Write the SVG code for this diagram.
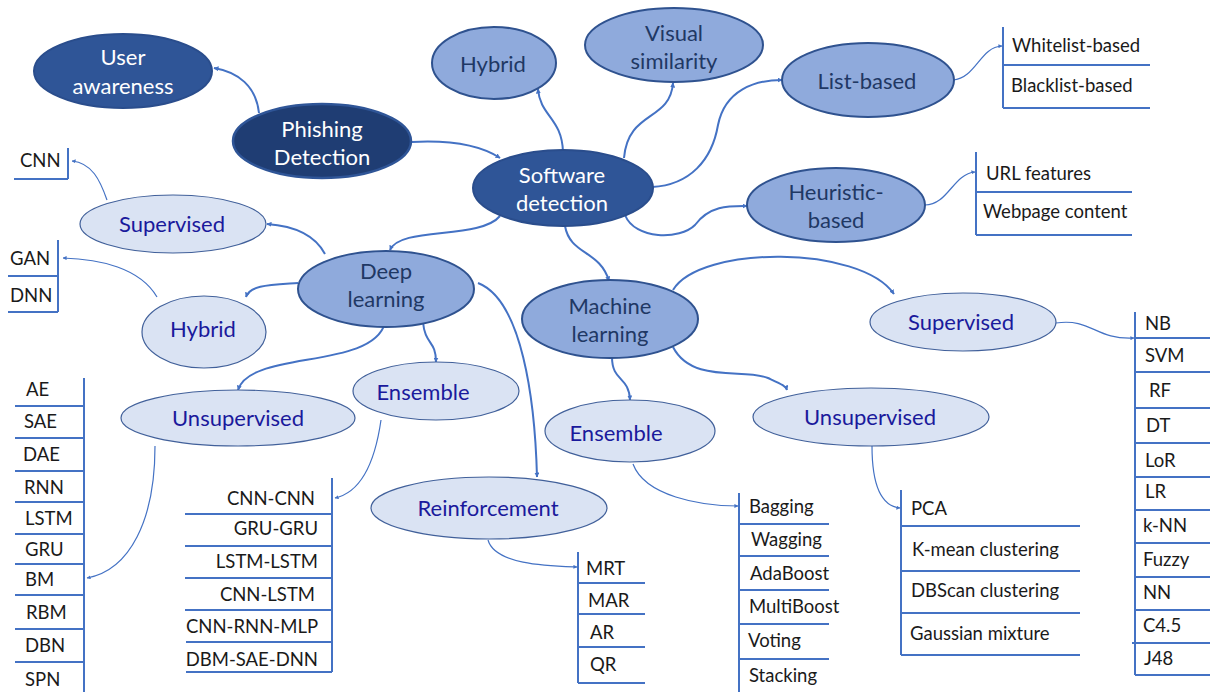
<svg xmlns="http://www.w3.org/2000/svg" width="1210" height="692" viewBox="0 0 1210 692">
  <defs>
    <marker id="ah" viewBox="0 0 10 10" refX="9" refY="5" markerWidth="5" markerHeight="5" orient="auto-start-reverse" markerUnits="userSpaceOnUse">
      <path d="M0,0 L10,5 L0,10 z" fill="#4472C4"/>
    </marker>
    <marker id="ahs" viewBox="0 0 10 10" refX="9" refY="5" markerWidth="4" markerHeight="4" orient="auto-start-reverse" markerUnits="userSpaceOnUse">
      <path d="M0,0 L10,5 L0,10 z" fill="#4472C4"/>
    </marker>
  </defs>
  <style>
    .dark ellipse { fill: #2F5597; stroke: #2A4D8C; stroke-width: 2; }
    .darker ellipse { fill: #1F3D73; stroke: #2F5597; stroke-width: 2.5; }
    .mid ellipse { fill: #8FAADC; stroke: #2F528F; stroke-width: 2; }
    .light ellipse { fill: #DAE3F3; stroke: #41609A; stroke-width: 1.2; }
    text { font-family: Lato, "Liberation Sans", sans-serif; dominant-baseline: central; }
    .dark text, .darker text { fill: #FFFFFF; font-size: 22px; text-anchor: middle; }
    .mid text { fill: #1F3864; font-size: 22px; text-anchor: middle; }
    .light text { fill: #1A1A9C; font-size: 22px; text-anchor: middle; }
    .list line { stroke: #4472C4; stroke-width: 2; }
    .list text { fill: #1A1A1A; font-size: 18.5px; }
    .list .r { text-anchor: end; }
    .conn path { fill: none; stroke: #4472C4; stroke-width: 2; }
    .conn path.thin { stroke-width: 1.2; }
  </style>

  <!-- connectors -->
  <g id="connectors" class="conn">
    <path d="M259,113 C256,86 238,72 214,68" marker-end="url(#ah)"/>
    <path d="M412,142 C450,140 480,145 500,158" marker-end="url(#ah)"/>
    <path d="M563,152 C562,118 540,116 538,89" marker-end="url(#ah)"/>
    <path d="M624,158 C628,110 670,122 673,83" marker-end="url(#ah)"/>
    <path d="M652,187 C690,185 712,160 718,125 C725,90 755,80 782,80" marker-end="url(#ah)"/>
    <path d="M625,215 C635,240 680,240 695,225 C710,205 730,206 747,206" marker-end="url(#ah)"/>
    <path d="M565,226 C570,255 600,250 609,281" marker-end="url(#ah)"/>
    <path d="M500,216 C480,240 400,226 390,250" marker-end="url(#ah)"/>
    <path d="M325,254 C315,235 295,226 267,224" marker-end="url(#ah)"/>
    <path d="M298,283 C270,285 250,285 246,297" marker-end="url(#ah)"/>
    <path d="M385,323 C372,370 250,350 238,390" marker-end="url(#ah)"/>
    <path d="M423,322 C425,345 436,340 436,362" marker-end="url(#ah)"/>
    <path d="M478,283 C522,300 535,400 537,477" marker-end="url(#ah)"/>
    <path d="M673,290 C700,245 860,245 894,294" marker-end="url(#ah)"/>
    <path d="M673,347 C692,384 745,368 768,378 C781,384 786,386 787,390" marker-end="url(#ah)"/>
    <path d="M612,357 C612,382 629,376 630,400" marker-end="url(#ah)"/>
    <path class="thin" d="M107,200 C100,180 92,163 72,161" marker-end="url(#ahs)"/>
    <path class="thin" d="M157,297 C140,268 100,259 63,258" marker-end="url(#ahs)"/>
    <path class="thin" d="M155,446 C155,520 130,570 87,578" marker-end="url(#ahs)"/>
    <path class="thin" d="M381,420 C375,462 362,492 335,498" marker-end="url(#ahs)"/>
    <path class="thin" d="M488,540 C495,565 550,566 577,567" marker-end="url(#ahs)"/>
    <path class="thin" d="M633,464 C645,496 700,506 738,506" marker-end="url(#ahs)"/>
    <path class="thin" d="M872,446 C872,482 880,506 900,508" marker-end="url(#ahs)"/>
    <path class="thin" d="M1056,323 C1092,318 1095,340 1134,338" marker-end="url(#ahs)"/>
    <path class="thin" d="M953,80 C976,78 980,47 1002,46" marker-end="url(#ahs)"/>
    <path class="thin" d="M925,205 C948,205 953,174 975,172" marker-end="url(#ahs)"/>
  </g>

  <!-- main nodes -->
  <g id="user-awareness" class="dark">
    <ellipse cx="123" cy="71" rx="89" ry="37"/>
    <text x="123" y="56">User</text>
    <text x="123" y="85">awareness</text>
  </g>
  <g id="phishing-detection" class="darker">
    <ellipse cx="322" cy="141" rx="89" ry="37"/>
    <text x="322" y="128">Phishing</text>
    <text x="322" y="156">Detection</text>
  </g>
  <g id="software-detection" class="dark">
    <ellipse cx="563" cy="188" rx="90" ry="38"/>
    <text x="562" y="174">Software</text>
    <text x="562" y="202">detection</text>
  </g>

  <g id="hybrid-top" class="mid">
    <ellipse cx="494" cy="63" rx="62" ry="36"/>
    <text x="493" y="63">Hybrid</text>
  </g>
  <g id="visual-similarity" class="mid">
    <ellipse cx="674" cy="45" rx="89" ry="37"/>
    <text x="674" y="32">Visual</text>
    <text x="674" y="60">similarity</text>
  </g>
  <g id="list-based" class="mid">
    <ellipse cx="868" cy="80" rx="86" ry="37"/>
    <text x="867" y="80">List-based</text>
  </g>
  <g id="heuristic-based" class="mid">
    <ellipse cx="836" cy="205" rx="89" ry="37"/>
    <text x="836" y="191">Heuristic-</text>
    <text x="836" y="219">based</text>
  </g>
  <g id="deep-learning" class="mid">
    <ellipse cx="386" cy="289" rx="88" ry="38"/>
    <text x="386" y="270">Deep</text>
    <text x="386" y="298">learning</text>
  </g>
  <g id="machine-learning" class="mid">
    <ellipse cx="610" cy="319" rx="88" ry="39"/>
    <text x="610" y="305">Machine</text>
    <text x="610" y="333">learning</text>
  </g>

  <!-- deep learning branches -->
  <g id="dl-supervised" class="light">
    <ellipse cx="173" cy="224" rx="93" ry="29"/>
    <text x="172" y="223">Supervised</text>
  </g>
  <g id="dl-hybrid" class="light">
    <ellipse cx="204" cy="332" rx="62" ry="36"/>
    <text x="203" y="328">Hybrid</text>
  </g>
  <g id="dl-unsupervised" class="light">
    <ellipse cx="238" cy="418" rx="117" ry="28"/>
    <text x="238" y="417">Unsupervised</text>
  </g>
  <g id="dl-ensemble" class="light">
    <ellipse cx="436" cy="391" rx="83" ry="29"/>
    <text x="423" y="391">Ensemble</text>
  </g>
  <g id="dl-reinforcement" class="light">
    <ellipse cx="489" cy="508" rx="118" ry="31"/>
    <text x="488" y="507">Reinforcement</text>
  </g>

  <!-- machine learning branches -->
  <g id="ml-supervised" class="light">
    <ellipse cx="963" cy="322" rx="93" ry="29"/>
    <text x="961" y="321">Supervised</text>
  </g>
  <g id="ml-unsupervised" class="light">
    <ellipse cx="871" cy="417" rx="118" ry="29"/>
    <text x="870" y="416">Unsupervised</text>
  </g>
  <g id="ml-ensemble" class="light">
    <ellipse cx="630" cy="431" rx="85" ry="31"/>
    <text x="616" y="432">Ensemble</text>
  </g>

  <!-- leaf lists -->
  <g id="list-lists" class="list">
    <line x1="1003" y1="27" x2="1003" y2="108"/>
    <line x1="1003" y1="65" x2="1150" y2="65"/>
    <line x1="1003" y1="108" x2="1150" y2="108"/>
    <text x="1012" y="45">Whitelist-based</text>
    <text x="1011" y="85">Blacklist-based</text>
  </g>
  <g id="list-heuristic" class="list">
    <line x1="976" y1="152" x2="976" y2="235"/>
    <line x1="976" y1="192" x2="1132" y2="192"/>
    <line x1="976" y1="235" x2="1132" y2="235"/>
    <text x="986" y="173">URL features</text>
    <text x="983" y="211">Webpage content</text>
  </g>
  <g id="list-dl-supervised" class="list">
    <line x1="68" y1="148" x2="68" y2="179"/>
    <line x1="14" y1="179" x2="68" y2="179"/>
    <text x="20" y="160">CNN</text>
  </g>
  <g id="list-dl-hybrid" class="list">
    <line x1="58" y1="240" x2="58" y2="312"/>
    <line x1="8" y1="276" x2="58" y2="276"/>
    <line x1="8" y1="312" x2="58" y2="312"/>
    <text x="10" y="258">GAN</text>
    <text x="10" y="295">DNN</text>
  </g>
  <g id="list-dl-unsupervised" class="list">
    <line x1="84" y1="378" x2="84" y2="692"/>
    <line x1="15" y1="406" x2="84" y2="406"/>
    <line x1="15" y1="438" x2="84" y2="438"/>
    <line x1="15" y1="471" x2="84" y2="471"/>
    <line x1="15" y1="502" x2="84" y2="502"/>
    <line x1="15" y1="534" x2="84" y2="534"/>
    <line x1="15" y1="564" x2="84" y2="564"/>
    <line x1="15" y1="595" x2="84" y2="595"/>
    <line x1="15" y1="629" x2="84" y2="629"/>
    <line x1="15" y1="662" x2="84" y2="662"/>
    <text x="26" y="389">AE</text>
    <text x="24" y="421">SAE</text>
    <text x="23" y="454">DAE</text>
    <text x="24" y="487">RNN</text>
    <text x="25" y="518">LSTM</text>
    <text x="25" y="549">GRU</text>
    <text x="25" y="579">BM</text>
    <text x="26" y="612">RBM</text>
    <text x="25" y="645">DBN</text>
    <text x="25" y="679">SPN</text>
  </g>
  <g id="list-dl-ensemble" class="list">
    <line x1="332" y1="478" x2="332" y2="672"/>
    <line x1="185" y1="514" x2="332" y2="514"/>
    <line x1="185" y1="546" x2="332" y2="546"/>
    <line x1="185" y1="578" x2="332" y2="578"/>
    <line x1="185" y1="610" x2="332" y2="610"/>
    <line x1="186" y1="642" x2="332" y2="642"/>
    <line x1="186" y1="672" x2="332" y2="672"/>
    <text class="r" x="315" y="498">CNN-CNN</text>
    <text class="r" x="318" y="528">GRU-GRU</text>
    <text class="r" x="318" y="561">LSTM-LSTM</text>
    <text class="r" x="315" y="594">CNN-LSTM</text>
    <text class="r" x="318" y="626">CNN-RNN-MLP</text>
    <text class="r" x="318" y="659">DBM-SAE-DNN</text>
  </g>
  <g id="list-dl-reinforcement" class="list">
    <line x1="578" y1="552" x2="578" y2="683"/>
    <line x1="578" y1="583" x2="645" y2="583"/>
    <line x1="578" y1="614" x2="645" y2="614"/>
    <line x1="578" y1="647" x2="645" y2="647"/>
    <line x1="578" y1="683" x2="645" y2="683"/>
    <text x="586" y="568">MRT</text>
    <text x="588" y="600">MAR</text>
    <text x="590" y="632">AR</text>
    <text x="590" y="664">QR</text>
  </g>
  <g id="list-ml-ensemble" class="list">
    <line x1="739" y1="493" x2="739" y2="692"/>
    <line x1="739" y1="524" x2="829" y2="524"/>
    <line x1="739" y1="556" x2="829" y2="556"/>
    <line x1="739" y1="590" x2="829" y2="590"/>
    <line x1="739" y1="624" x2="829" y2="624"/>
    <line x1="739" y1="659" x2="829" y2="659"/>
    <text x="749" y="506">Bagging</text>
    <text x="751" y="539">Wagging</text>
    <text x="750" y="573">AdaBoost</text>
    <text x="749" y="606">MultiBoost</text>
    <text x="748" y="640">Voting</text>
    <text x="749" y="675">Stacking</text>
  </g>
  <g id="list-ml-unsupervised" class="list">
    <line x1="901" y1="490" x2="901" y2="655"/>
    <line x1="901" y1="526" x2="1080" y2="526"/>
    <line x1="901" y1="571" x2="1080" y2="571"/>
    <line x1="901" y1="613" x2="1080" y2="613"/>
    <line x1="901" y1="655" x2="1080" y2="655"/>
    <text x="911" y="508">PCA</text>
    <text x="912" y="549">K-mean clustering</text>
    <text x="911" y="590">DBScan clustering</text>
    <text x="910" y="633">Gaussian mixture</text>
  </g>
  <g id="list-ml-supervised" class="list">
    <line x1="1135" y1="312" x2="1135" y2="675"/>
    <line x1="1135" y1="338" x2="1210" y2="338"/>
    <line x1="1135" y1="372" x2="1210" y2="372"/>
    <line x1="1135" y1="408" x2="1210" y2="408"/>
    <line x1="1135" y1="443" x2="1210" y2="443"/>
    <line x1="1135" y1="477" x2="1210" y2="477"/>
    <line x1="1135" y1="510" x2="1210" y2="510"/>
    <line x1="1135" y1="543" x2="1210" y2="543"/>
    <line x1="1135" y1="577" x2="1210" y2="577"/>
    <line x1="1135" y1="610" x2="1210" y2="610"/>
    <line x1="1132" y1="643" x2="1210" y2="643"/>
    <line x1="1135" y1="675" x2="1210" y2="675"/>
    <text x="1145" y="323">NB</text>
    <text x="1145" y="355">SVM</text>
    <text x="1149" y="390">RF</text>
    <text x="1146" y="425">DT</text>
    <text x="1145" y="460">LoR</text>
    <text x="1145" y="491">LR</text>
    <text x="1143" y="525">k-NN</text>
    <text x="1143" y="559">Fuzzy</text>
    <text x="1143" y="592">NN</text>
    <text x="1143" y="625">C4.5</text>
    <text x="1144" y="658">J48</text>
  </g>
</svg>
